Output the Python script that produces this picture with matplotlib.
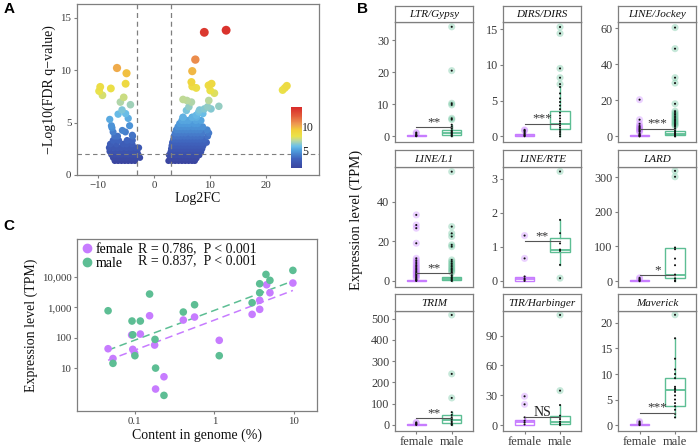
import numpy as np
import matplotlib
matplotlib.use('Agg')
import matplotlib.pyplot as plt
from matplotlib.colors import LinearSegmentedColormap
from matplotlib.lines import Line2D

plt.rcParams['font.family'] = ['Liberation Serif', 'DejaVu Serif']
plt.rcParams['axes.unicode_minus'] = True

# ---------------- data ----------------
# Panel A: volcano rows (-log10 q, list of log2FC)
volcano_left_rows = [
    (1.35, [-7.0, -6.4, -5.8, -5.2, -4.6, -4.0, -3.4]),
    (1.65, [-7.3, -6.7, -6.1, -5.5, -4.9, -4.3, -3.7, -3.1, -2.5]),
    (1.95, [-7.6, -7.0, -6.4, -5.8, -5.2, -4.6, -4.0, -3.4, -2.8]),
    (2.25, [-7.9, -6.8, -6.1, -5.3, -4.5, -3.7, -3.0]),
    (2.6, [-8.0, -7.2, -6.5, -5.8, -4.9, -4.1, -3.3, -2.7]),
    (2.95, [-7.8, -6.7, -5.5, -4.9, -3.9]),
    (3.3, [-7.3, -6.3, -4.8, -3.9]),
    (3.7, [-7.0, -6.5, -3.8]),
    (4.1, [-7.3, -5.1]),
    (4.5, [-7.5]),
]
volcano_right_rows = [
    (1.35, [2.6, 3.2, 3.8, 4.4, 5.0, 5.6, 6.2, 6.8, 7.3]),
    (1.6, [2.9, 3.5, 4.1, 4.7, 5.3, 5.9, 6.5, 7.1, 7.6]),
    (1.9, [2.7, 3.3, 3.9, 4.5, 5.1, 5.7, 6.3, 6.9, 7.5, 8.1]),
    (2.2, [3.0, 3.6, 4.2, 4.8, 5.4, 6.0, 6.6, 7.2, 7.8, 8.4]),
    (2.5, [3.1, 3.7, 4.3, 4.9, 5.5, 6.1, 6.7, 7.3, 7.9, 8.6]),
    (2.8, [3.2, 3.8, 4.4, 5.0, 5.6, 6.2, 6.8, 7.4, 8.0, 8.8]),
    (3.1, [3.3, 3.9, 4.5, 5.1, 5.7, 6.3, 6.9, 7.5, 8.1, 8.7, 9.4]),
    (3.4, [3.5, 4.1, 4.7, 5.3, 5.9, 6.5, 7.1, 7.7, 8.3, 9.0]),
    (3.7, [3.6, 4.2, 4.8, 5.4, 6.0, 6.6, 7.2, 7.8, 8.4, 9.6]),
    (4.0, [3.8, 4.4, 5.0, 5.6, 6.6, 7.2, 7.8, 8.6, 9.8]),
    (4.3, [4.0, 4.6, 5.2, 5.8, 6.4, 7.0, 7.6, 8.2, 9.5]),
    (4.6, [4.3, 4.9, 5.5, 6.1, 6.9, 7.5, 8.0, 8.7]),
    (4.9, [4.6, 5.2, 5.8, 6.3, 7.2, 7.8]),
    (5.2, [5.0, 5.6, 6.2, 7.5, 8.4]),
    (5.5, [5.2, 6.85, 7.6]),
]
volcano_extra_x = [-6.6, -4.9, -5.06, -9.6, -9.8, -9.2, -7.7, -5.4, -6.0, -4.2, -5.7, -6.4,
                   -5.06, -4.6, -7.9, -7.6, -5.65, -4.35, -3.87, -3.87,
                   9.0, 12.9, 7.4, 6.85, 6.7, 6.85, 7.56, 10.3, 9.76, 10.06, 10.8, 5.2, 5.9,
                   6.7, 6.25, 9.8, 9.6, 11.6, 8.15, 9.0, 8.75, 7.56, 5.8, 5.2, 6.85, 8.0, 10.2,
                   23.0, 23.75, 23.4]
volcano_extra_y = [10.2, 9.7, 8.7, 8.4, 8.0, 7.6, 8.25, 7.4, 6.95, 6.7, 6.2, 5.8,
                   5.85, 5.4, 5.3, 4.7, 4.25, 4.7, 3.8, 3.3,
                   13.6, 13.8, 11.0, 9.9, 8.86, 8.44, 8.3, 8.7, 8.54, 8.06, 7.8, 7.2, 7.1,
                   6.95, 6.5, 7.1, 6.5, 6.55, 6.2, 6.3, 5.85, 5.7, 6.15, 5.5, 5.5, 6.0, 6.3,
                   8.1, 8.5, 8.3]
fc_cut = [-3, 3]
q_cut = 2

# Panel C: TE content vs expression
female_content = [0.046, 0.053, 0.091, 0.094, 0.099, 0.117, 0.153, 0.177, 0.182, 0.232, 0.406, 0.563,
                  1.15, 2.98, 3.71, 3.71, 4.54, 4.99, 9.7]
female_expr = [44, 21, 124, 42, 32, 133, 531, 58, 2.1, 5.3, 384, 481,
               83, 589, 860, 1700, 5500, 3010, 6270]
male_content = [0.046, 0.053, 0.092, 0.094, 0.1, 0.117, 0.153, 0.179, 0.182, 0.232, 0.406, 0.563,
                1.15, 2.98, 3.71, 3.71, 4.45, 4.99, 9.7]
male_expr = [774, 14.6, 356, 126, 26, 356, 2730, 89, 10.2, 1.3, 701, 1217,
             26, 1416, 3010, 5940, 12000, 7670, 16300]
female_stat_text = "R = 0.786,  P < 0.001"
male_stat_text = "R = 0.837,  P < 0.001"

# Panel B: boxplot facets
facet_names = ["LTR/Gypsy", "DIRS/DIRS", "LINE/Jockey", "LINE/L1", "LINE/RTE", "LARD",
               "TRIM", "TIR/Harbinger", "Maverick"]
facet_ylims = [(-1.8, 35.7), (-0.8, 16), (-3.1, 63.5), (-2.9, 57.6), (-0.17, 3.35), (-16, 330),
               (-27, 537), (-5.7, 115), (-1.1, 22.4)]
facet_yticks = [[0, 10, 20, 30], [0, 5, 10, 15], [0, 20, 40, 60], [0, 20, 40], [0, 1, 2, 3],
                [0, 100, 200, 300], [0, 100, 200, 300, 400, 500], [0, 30, 60, 90], [0, 5, 10, 15, 20]]
# (whislo, q1, med, q3, whishi)
female_box = [(0, 0, 0.15, 0.4, 0.8), (0, 0, 0.1, 0.35, 0.7), (0, 0, 0.2, 0.9, 2.0),
              (0, 0, 0.1, 0.5, 1.2), (0, 0, 0.05, 0.1, 0.15), (0, 0, 1, 3, 6),
              (0, 0, 2, 5, 10), (0, 0.3, 2.7, 5, 7.7), (0, 0, 0.05, 0.15, 0.35)]
male_box = [(0, 0.35, 1.0, 1.85, 3.6), (0, 1.07, 1.77, 3.5, 6.9), (0, 0.55, 1.5, 2.8, 5.5),
            (0, 0.5, 1.2, 1.85, 3.8), (0.47, 0.84, 0.9, 1.27, 1.79), (0, 9.6, 19, 97, 97),
            (0, 9.4, 25, 47, 60), (0, 1, 3.4, 9.4, 20.1), (1.5, 3.66, 6.9, 9.15, 17)]
female_fliers = [[0.9, 1.15], [0.8, 0.9],
                 [2.5, 3.0, 3.5, 4.0, 4.6, 5.2, 5.8, 7.0, 9.3, 20.4],
                 [1.5, 2.0, 2.6, 3.2, 3.8, 4.4, 5.0, 5.7, 6.4, 7.1, 7.8, 8.6, 9.5, 10.4, 11.4, 19.0, 26.6, 28.2, 33.3],
                 [0.66, 1.33], [7, 9.6], [9, 12], [20.8, 28.9], [0.5, 0.7]]
male_fliers = [[5.2, 5.6, 9.8, 10.3, 20.5, 34.2], [7.3, 8.2, 9.5, 14.4, 15.3],
               [6.0, 6.6, 7.3, 8.0, 8.7, 9.5, 10.3, 11.2, 12.1, 13.0, 14.0, 18.1, 29.6, 32.6, 48.7, 60.4],
               [4.3, 5.0, 5.7, 6.4, 7.2, 8.0, 8.8, 9.7, 10.6, 17.3, 18.2, 22.4, 24.0, 27.4, 55.1],
               [0.08, 3.21], [301, 318], [127, 240, 517], [34.6, 110.7], [21.6]]
female_dots = [[0, 0.1, 0.2, 0.3, 0.5], [0, 0.1, 0.2, 0.35, 0.5, 0.7], [0, 0.3, 0.6, 1.0, 1.5],
               [0, 0.3, 0.6, 1.0], [0, 0.03, 0.07, 0.13], [0, 2, 4], [0, 3, 6],
               [0.7, 2.7, 4.4, 7.7], [0, 0.1, 0.3]]
male_dots = [[0, 0.3, 0.6, 0.9, 1.2, 1.5, 1.8, 2.4, 3.0, 3.6],
             [0, 0.3, 0.6, 0.9, 1.2, 1.5, 1.8, 2.1, 2.5, 2.9, 3.3, 3.8, 4.3, 4.8, 5.3, 6.0, 6.9],
             [0, 0.5, 1.0, 1.5, 2.0, 2.8, 3.5, 4.5, 5.5],
             [0, 0.5, 1.0, 1.5, 2.0, 2.8, 3.8],
             [0.47, 0.88, 0.92, 1.1, 1.4, 1.79],
             [0, 2, 8, 17, 19, 46, 65, 92, 97],
             [0, 3, 9, 16, 25, 36, 47, 60],
             [0, 0.7, 1.7, 3.4, 6, 9.4, 20.1],
             [1.5, 2.2, 3.0, 3.7, 4.3, 5.0, 5.8, 6.5, 6.9, 7.2, 7.5, 9.2, 10.0, 10.9, 13.0, 17.0]]
sig_labels = ["**", "***", "***", "**", "**", "*", "**", "NS", "***"]
sig_y = [2.8, 1.77, 4.3, 3.9, 1.16, 17, 31, 7.7, 2.35]
groups = ["female", "male"]

# ---------------- style ----------------
FEMALE = '#C77CFF'
MALE = '#5DBE94'
GRAY = '#7F7F7F'
TXT = '#3A3A3A'
W, H = 698, 448
fig = plt.figure(figsize=(W / 100, H / 100), dpi=100)


def ax_px(l, t, r, b):
    return fig.add_axes([l / W, 1 - b / H, (r - l) / W, (b - t) / H])


def style_axes(ax, labelsize=7.8):
    for s in ax.spines.values():
        s.set_color(GRAY)
        s.set_linewidth(0.9)
    ax.tick_params(colors=GRAY, labelcolor=TXT, labelsize=labelsize, length=2.5, width=0.8, pad=1.5)


# ---------------- Panel A ----------------
vx = [x for y, xs in volcano_left_rows + volcano_right_rows for x in xs] + volcano_extra_x
vy = [y for y, xs in volcano_left_rows + volcano_right_rows for x in xs] + volcano_extra_y
vx = np.array(vx)
vy = np.array(vy)
order = np.argsort(vy)
vx, vy = vx[order], vy[order]

cmap = LinearSegmentedColormap.from_list(
    'volc', [(0.0, '#3A45A0'), (0.15, '#3F62BC'), (0.28, '#4E9BDB'), (0.36, '#6CC0E8'),
             (0.45, '#B9D8A0'), (0.52, '#EAE24A'), (0.62, '#F2D03A'), (0.72, '#EE9B52'),
             (0.86, '#E25A3A'), (1.0, '#D82A2A')])

axA = ax_px(77, 4, 319, 175)
sc = axA.scatter(vx, vy, c=vy, cmap=cmap, vmin=1.3, vmax=14.2, s=19 + 1.6 * vy, edgecolors='none')
for xc in fc_cut:
    axA.axvline(xc, color=GRAY, lw=0.9, ls=(0, (4, 3)))
axA.axhline(q_cut, color=GRAY, lw=0.8, ls=(0, (4, 3)))
axA.set_xlim(-13.75, 29.5)
axA.set_ylim(0, 16.3)
axA.set_xticks([-10, 0, 10, 20])
axA.set_yticks([0, 5, 10, 15])
style_axes(axA)
axA.set_xlabel('Log2FC', fontsize=10, color='#111111', labelpad=2)
axA.set_ylabel('\u2212Log10(FDR q\u2212value)', fontsize=10, color='#111111', labelpad=3)

cax = ax_px(291, 107, 302, 168)
cb = fig.colorbar(sc, cax=cax, ticks=[5, 10])
cb.outline.set_visible(False)
cax.tick_params(length=0, labelsize=8.5, pad=0, labelcolor='#222222')

# ---------------- Panel C ----------------
axC = ax_px(77, 239, 317, 411)
axC.scatter(female_content, female_expr, s=30, color=FEMALE, edgecolors='none', zorder=3)
axC.scatter(male_content, male_expr, s=30, color=MALE, edgecolors='none', zorder=3)
for xs, ys, col in [(female_content, female_expr, FEMALE), (male_content, male_expr, MALE)]:
    lx, ly = np.log10(xs), np.log10(ys)
    k, b0 = np.polyfit(lx, ly, 1)
    xx = np.array([lx.min(), lx.max()])
    axC.plot(10 ** xx, 10 ** (k * xx + b0), color=col, lw=1.1, ls=(0, (5, 3)), zorder=2)
axC.set_xscale('log')
axC.set_yscale('log')
axC.set_xlim(0.0187, 19.5)
axC.set_ylim(0.4, 174000)
axC.set_xticks([0.1, 1, 10])
axC.set_xticklabels(['0.1', '1', '10'])
axC.set_yticks([10, 100, 1000, 10000])
axC.set_yticklabels(['10', '100', '1,000', '10,000'])
axC.minorticks_off()
style_axes(axC)
axC.set_xlabel('Content in genome (%)', fontsize=10, color='#111111', labelpad=2)
axC.set_ylabel('Expression level (TPM)', fontsize=10, color='#111111', labelpad=3)
handles = [Line2D([], [], ls='none', marker='o', ms=6, color=FEMALE, label=groups[0]),
           Line2D([], [], ls='none', marker='o', ms=6, color=MALE, label=groups[1])]
axC.legend(handles=handles, loc='upper left', frameon=False, fontsize=10, handletextpad=0.15,
           borderaxespad=0.1, labelspacing=0.05, handlelength=0.9, borderpad=0.2)
axC.text(0.255, 0.946, female_stat_text, transform=axC.transAxes, fontsize=10, va='center', color='#111111')
axC.text(0.255, 0.872, male_stat_text, transform=axC.transAxes, fontsize=10, va='center', color='#111111')

# ---------------- Panel B ----------------
col_x = [395, 503.3, 618.3]
row_top = [22, 166.7, 310.7]
pw, ph, sh = 78, 120, 16.5
for i in range(9):
    r, c = divmod(i, 3)
    x0, t0 = col_x[c], row_top[r]
    ax = ax_px(x0, t0, x0 + pw, t0 + ph)
    for pos, stats, fl, dots, col in [(1, female_box[i], female_fliers[i], female_dots[i], FEMALE),
                                       (2, male_box[i], male_fliers[i], male_dots[i], MALE)]:
        st = dict(whislo=stats[0], q1=stats[1], med=stats[2], q3=stats[3], whishi=stats[4])
        ax.bxp([st], positions=[pos], widths=0.55, showfliers=False, showcaps=False, patch_artist=True,
               boxprops=dict(facecolor='white', edgecolor=col, lw=1.0),
               medianprops=dict(color=col, lw=1.3), whiskerprops=dict(color=col, lw=1.0))
        ax.scatter([pos] * len(fl), fl, s=26, color=col, alpha=0.35, edgecolors='none', zorder=3)
        alld = list(dots) + list(fl)
        ax.scatter([pos] * len(alld), alld, s=2.2, color='#111111', edgecolors='none', zorder=4)
    ax.plot([1, 2], [sig_y[i], sig_y[i]], color='#555555', lw=0.8, zorder=5)
    if sig_labels[i] == 'NS':
        ax.annotate(sig_labels[i], (1.5, sig_y[i]), xytext=(0, -1.5), textcoords='offset points',
                    ha='center', va='bottom', fontsize=10, color='#222222', zorder=6)
    else:
        ax.annotate(sig_labels[i], (1.5, sig_y[i]), xytext=(0, -0.5), textcoords='offset points',
                    ha='center', va='bottom', fontsize=9.5, color='#333333', zorder=6)
    ax.set_xlim(0.4, 2.6)
    ax.set_ylim(*facet_ylims[i])
    ax.set_yticks(facet_yticks[i])
    style_axes(ax, labelsize=8.7)
    ax.set_xticks([1, 2])
    if r == 2:
        ax.set_xticklabels(groups, fontsize=9)
    else:
        ax.tick_params(axis='x', length=0, labelbottom=False)
    sax = ax_px(x0, t0 - sh, x0 + pw, t0)
    sax.set_xticks([])
    sax.set_yticks([])
    for s in sax.spines.values():
        s.set_color(GRAY)
        s.set_linewidth(0.9)
    sax.text(0.5, 0.45, facet_names[i], transform=sax.transAxes, ha='center', va='center',
             fontsize=8, style='italic', color='#111111')

fig.text(350 / W, 1 - 220 / H, 'Expression level (TPM)', rotation=90, ha='left', va='center',
         fontsize=10.5, color='#111111')

# panel letters
for lab, px, py in [('A', 4, 9), ('B', 357, 9), ('C', 3, 226)]:
    fig.text(px / W, 1 - py / H, lab, fontsize=11, fontweight='bold', family='Liberation Sans',
             ha='left', va='center')

fig.savefig('out.png', dpi=100)
